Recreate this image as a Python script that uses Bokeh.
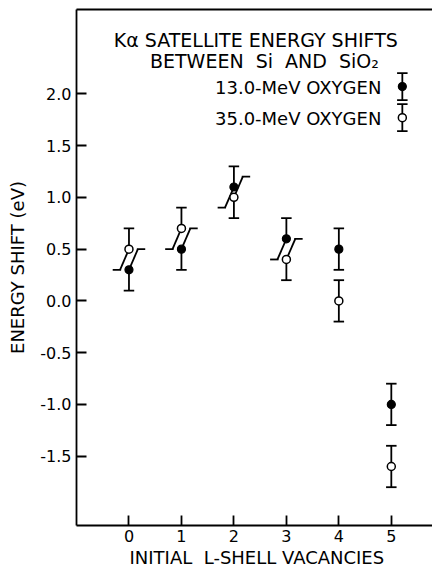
from bokeh.plotting import figure
from bokeh.models import Label, FixedTicker, LinearAxis, Title
from bokeh.embed import file_html
from bokeh.resources import INLINE

# ---- data ----
vacancies = [0, 1, 2, 3, 4, 5]
shift_13mev = [0.3, 0.5, 1.1, 0.6, 0.5, -1.0]
err_13mev = [0.2, 0.2, 0.2, 0.2, 0.2, 0.2]
shift_35mev = [0.5, 0.7, 1.0, 0.4, 0.0, -1.6]
err_35mev = [0.2, 0.2, 0.2, 0.2, 0.2, 0.2]

y_ticks = [-1.5, -1.0, -0.5, 0.0, 0.5, 1.0, 1.5, 2.0]
x_ticks = [0, 1, 2, 3, 4, 5]

legend_labels = ["13.0-MeV OXYGEN", "35.0-MeV OXYGEN"]
legend_x = [5.21, 5.21]
legend_y = [2.07, 1.77]
legend_err = [0.13, 0.13]

# ---- styles ----
FONT = "DejaVu Sans"
LW = 1.8
CAP = 0.1        # half width of a full cap (data units)
SLANT = 0.17     # horizontal offset of a slanted whisker
HC_OUT = 0.14    # half-cap outward length
HC_IN = 0.02     # half-cap inward length

p = figure(width=432, height=569, x_range=(-1.0, 5.785), y_range=(-2.17, 2.815),
           output_backend="svg", toolbar_location=None,
           min_border_left=76, min_border_right=0, min_border_top=9, min_border_bottom=44)
p.outline_line_color = None
p.grid.visible = False
p.background_fill_color = "white"
p.border_fill_color = "white"

# axes
p.yaxis.ticker = FixedTicker(ticks=y_ticks)
p.xaxis.ticker = FixedTicker(ticks=x_ticks)
for ax in (p.xaxis[0], p.yaxis[0]):
    ax.axis_line_width = LW
    ax.axis_line_color = "black"
    ax.major_tick_in = 10
    ax.major_tick_out = 0
    ax.major_tick_line_width = LW
    ax.minor_tick_line_color = None
    ax.major_label_text_font = FONT
    ax.major_label_text_font_size = "16px"
    ax.major_label_text_color = "black"
p.xaxis.major_label_standoff = 4
p.yaxis.major_label_standoff = 5
p.yaxis.major_label_overrides = {t: ("%.1f" % t) for t in y_ticks}
p.yaxis.axis_label = "ENERGY SHIFT (eV)"
p.yaxis.axis_label_text_font = FONT
p.yaxis.axis_label_text_font_size = "18px"
p.yaxis.axis_label_text_font_style = "normal"
p.yaxis.axis_label_text_color = "black"
p.yaxis.axis_label_standoff = 9

top_axis = LinearAxis(ticker=FixedTicker(ticks=[]), major_label_text_font_size="0px",
                      major_tick_in=0, major_tick_out=0, minor_tick_line_color=None,
                      axis_line_width=LW, axis_line_color="black")
p.add_layout(top_axis, "above")

xlabel = Title(text="INITIAL \u00a0L-SHELL VACANCIES", align="left", offset=53,
               text_font=FONT, text_font_size="18px", text_font_style="normal",
               text_color="black", standoff=0)
p.add_layout(xlabel, "below")

# ---- error bars, with slanted whiskers where the two bars overlap ----
x0s, y0s, x1s, y1s = [], [], [], []

def seg(a, b, c, d):
    x0s.append(a); y0s.append(b); x1s.append(c); y1s.append(d)

def full_bar(x, v, e):
    seg(x, v - e, x, v + e)
    seg(x - CAP, v + e, x + CAP, v + e)
    seg(x - CAP, v - e, x + CAP, v - e)

for x, a, ea, b, eb in zip(vacancies, shift_13mev, err_13mev, shift_35mev, err_35mev):
    if a >= b:
        up, eu, lo, el = a, ea, b, eb
    else:
        up, eu, lo, el = b, eb, a, ea
    if up - eu < lo + el:
        seg(x, up, x, up + eu)
        seg(x - CAP, up + eu, x + CAP, up + eu)
        seg(x, up, x - SLANT, up - eu)
        seg(x - SLANT - HC_OUT, up - eu, x - SLANT + HC_IN, up - eu)
        seg(x, lo, x, lo - el)
        seg(x - CAP, lo - el, x + CAP, lo - el)
        seg(x, lo, x + SLANT, lo + el)
        seg(x + SLANT - HC_IN, lo + el, x + SLANT + HC_OUT, lo + el)
    else:
        full_bar(x, a, ea)
        full_bar(x, b, eb)

for lx, ly, le in zip(legend_x, legend_y, legend_err):
    full_bar(lx, ly, le)

p.segment(x0=x0s, y0=y0s, x1=x1s, y1=y1s, line_color="black", line_width=LW)

p.scatter(x=vacancies, y=shift_13mev, size=8, marker="circle",
          fill_color="black", line_color="black", line_width=1.2)
p.scatter(x=vacancies, y=shift_35mev, size=8, marker="circle",
          fill_color="white", line_color="black", line_width=1.5)
p.scatter(x=legend_x[:1], y=legend_y[:1], size=8, marker="circle",
          fill_color="black", line_color="black", line_width=1.2)
p.scatter(x=legend_x[1:], y=legend_y[1:], size=8, marker="circle",
          fill_color="white", line_color="black", line_width=1.5)

# ---- texts ----
def add_label(x, y, text, size, align="left"):
    p.add_layout(Label(x=x, y=y, text=text,
                       text_font=FONT, text_font_size=size, text_color="black",
                       text_align=align, text_baseline="middle"))

add_label(-0.29, 2.525, "K\u03b1 SATELLITE ENERGY SHIFTS", "19px")
add_label(0.40, 2.32, "BETWEEN \u00a0Si \u00a0AND \u00a0SiO\u2082", "19px")
for lab, ly in zip(legend_labels, legend_y):
    add_label(4.81, ly - 0.01, lab, "18px", align="right")

open("out.html", "w").write(file_html(p, INLINE))
